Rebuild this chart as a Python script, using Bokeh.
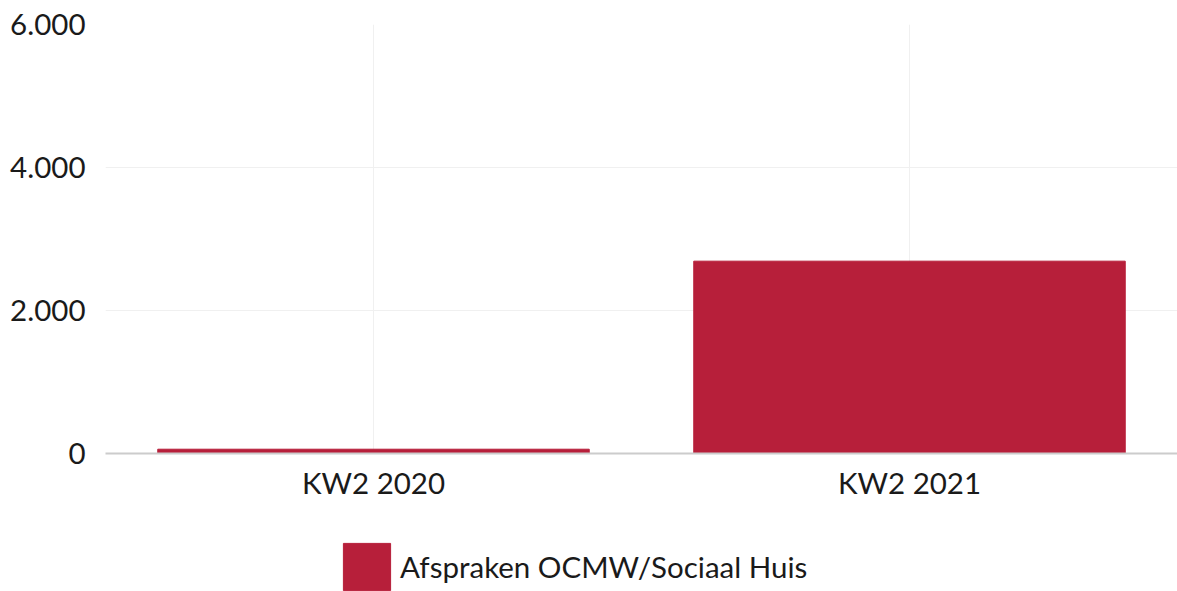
from bokeh.plotting import figure
from bokeh.layouts import column
from bokeh.models import Range1d, Legend, LegendItem, CustomJSTickFormatter, FixedTicker
from bokeh.embed import file_html
from bokeh.resources import INLINE

categories = ["KW2 2020", "KW2 2021"]
values = [60, 2690]
series_name = "Afspraken OCMW/Sociaal Huis"
y_ticks = [0, 2000, 4000, 6000]

BAR_COLOR = "#B71F3A"
FONT = "Lato"
FONT_SIZE = "29.5px"
TEXT_COLOR = "#1a1a1a"

p = figure(x_range=categories, y_range=Range1d(0, 6000), width=1177, height=520,
           output_backend="svg", toolbar_location=None,
           min_border_left=105, min_border_right=0, min_border_top=24, min_border_bottom=67)
p.outline_line_color = None

r = p.vbar(x=categories, top=values, width=0.805, color=BAR_COLOR)

p.yaxis.ticker = FixedTicker(ticks=y_ticks)
p.yaxis.formatter = CustomJSTickFormatter(code="return tick.toFixed(0).replace(/\\B(?=(\\d{3})+(?!\\d))/g, '.');")
for ax in (p.xaxis[0], p.yaxis[0]):
    ax.major_label_text_font = FONT
    ax.major_label_text_font_size = FONT_SIZE
    ax.major_label_text_color = TEXT_COLOR
    ax.major_tick_line_color = None
    ax.minor_tick_line_color = None
    ax.major_tick_out = 0
    ax.major_tick_in = 0
    ax.minor_tick_out = 0
p.yaxis.axis_line_color = None
p.yaxis.major_label_standoff = 20
p.xaxis.axis_line_color = "#cccccc"
p.xaxis.axis_line_width = 2
p.xaxis.major_label_standoff = 11

p.xgrid.grid_line_color = "#f0f0f0"
p.ygrid.grid_line_color = "#f0f0f0"

# legend row below the chart (a swatch renderer kept outside its visible range)
leg_fig = figure(width=1177, height=71, x_range=Range1d(0, 1), y_range=Range1d(0, 1),
                 output_backend="svg", toolbar_location=None,
                 x_axis_type=None, y_axis_type=None, min_border=0)
leg_fig.outline_line_color = None
leg_fig.xgrid.visible = False
leg_fig.ygrid.visible = False
leg_r = leg_fig.vbar(x=[10], top=[10], bottom=[9], width=0.5, color=BAR_COLOR)

legend = Legend(items=[LegendItem(label=series_name, renderers=[leg_r])],
                location=(232, -5), orientation="horizontal",
                glyph_width=59, glyph_height=59,
                label_text_font=FONT, label_text_font_size=FONT_SIZE, label_text_color=TEXT_COLOR,
                label_standoff=4,
                border_line_alpha=0, background_fill_alpha=0, padding=0, margin=0)
leg_fig.add_layout(legend, "center")

layout = column(p, leg_fig, spacing=0)
open("out.html", "w").write(file_html(layout, INLINE))
